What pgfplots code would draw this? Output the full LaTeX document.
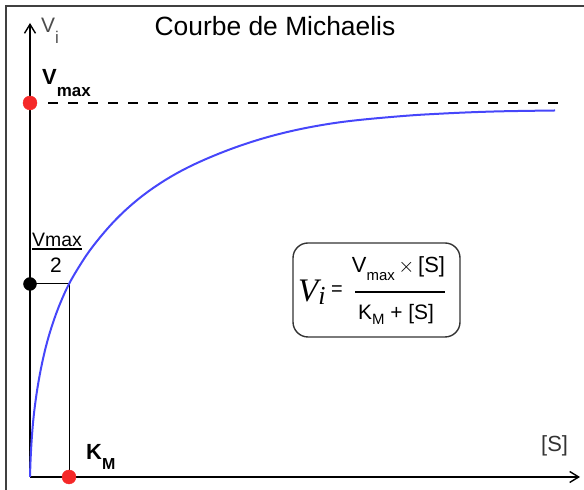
\documentclass[border=0pt]{standalone}
\usepackage{pgfplots}
\pgfplotsset{compat=1.18}
\usetikzlibrary{arrows.meta}
\usepackage{fontspec}
\setmainfont{Liberation Sans}
\newfontfamily\timesf{Liberation Serif}
\definecolor{curveblue}{RGB}{70,70,250}
\definecolor{dotred}{RGB}{245,40,40}
\begin{document}
\begin{tikzpicture}
\begin{axis}[name=ax,
  scale only axis, width=584bp, height=490bp,
  xmin=-30, xmax=554, ymin=-13, ymax=477,
  hide axis, clip=false]
% frame (cropped at right and bottom)
\addplot[black!75, line width=1.4bp] coordinates {(-24,-13) (-24,471) (554,471)};
% axes
\addplot[black, line width=1.4bp, -{Straight Barb[length=9bp,width=11bp,line width=1.4bp]}] coordinates {(0,0) (0,454)};
\addplot[black, line width=1.4bp, -{Straight Barb[length=9bp,width=11bp,line width=1.4bp]}] coordinates {(0,0) (550,0)};
% Vmax dashed asymptote
\addplot[black, line width=1.3bp, dash pattern=on 10bp off 10bp] coordinates {(18,374) (533,374)};
% Km guide lines
\addplot[black, line width=1bp] coordinates {(0,193) (39,193) (39,0)};
% Michaelis curve
\addplot[curveblue, line width=2bp, smooth, tension=0.6] coordinates {
(0,0) (0.5,15.4) (1.5,34.4) (3,53.9) (5,71.9) (8,92.3) (12,113.5) (17,134.5)
(23,154.3) (30,173.2) (39,193) (51,213.4) (63,230.8) (80,251.2) (97,268.2)
(117,284.6) (140,299.8) (165,313) (197,326.5) (230,337.7) (263,346.3)
(297,352.8) (330,357.1) (377,361.3) (410,363.3) (443,364.8) (477,365.8) (525,366.5)};
% dots
\addplot[only marks, mark=*, mark size=7bp, dotred, mark options={draw=dotred}] coordinates {(0,374) (39,0)};
\addplot[only marks, mark=*, mark size=6.5bp, black] coordinates {(0,193)};
% texts
\node[anchor=base] at (axis cs:245,441) {\fontsize{26.5}{30}\selectfont Courbe de Michaelis};
\node[anchor=base west, inner sep=0pt, text=black!70] at (axis cs:11,444) {\fontsize{21}{24}\selectfont V\raisebox{-11bp}{\fontsize{17}{20}\selectfont i}};
\node[anchor=base west, inner sep=0pt] at (axis cs:12,392) {\fontsize{22}{26}\selectfont\bfseries V\raisebox{-12bp}{\fontsize{17}{20}\selectfont max}};
\node[anchor=base west, inner sep=0pt] at (axis cs:56,17) {\fontsize{22}{26}\selectfont\bfseries K\raisebox{-10bp}{\fontsize{16}{20}\selectfont M}};
\node[anchor=base west, inner sep=0pt] at (axis cs:2,230) {\fontsize{19.5}{24}\selectfont Vmax};
\addplot[black, line width=1.2bp] coordinates {(2,228) (52,228)};
\node[anchor=base, inner sep=0pt] at (axis cs:26,204) {\fontsize{21}{24}\selectfont 2};
\node[anchor=base west, inner sep=0pt, text=black!80] at (axis cs:511,25) {\fontsize{22}{26}\selectfont [S]};
% formula box
\draw[black!80, line width=1.4bp, rounded corners=15bp] (axis cs:263,234) rectangle (axis cs:430,140);
\node[anchor=base west, inner sep=0pt] at (axis cs:268,175) {\fontsize{33}{36}\timesf\itshape V\raisebox{-3bp}{\fontsize{26}{30}\selectfont i}};
\node[anchor=center, inner sep=0pt] at (axis cs:307,186) {\fontsize{20}{24}\selectfont =};
\node[anchor=base, inner sep=0pt] at (axis cs:368.5,204) {\fontsize{22}{24}\selectfont V\raisebox{-8bp}{\fontsize{15}{18}\selectfont max}\,$\times$\,[S]};
\addplot[black, line width=1.2bp] coordinates {(325,185) (415,185)};
\node[anchor=base, inner sep=0pt] at (axis cs:366,157) {\fontsize{21}{24}\selectfont K\raisebox{-5bp}{\fontsize{15}{18}\selectfont M} + [S]};
\end{axis}
\pgfresetboundingbox
\useasboundingbox (ax.south west) rectangle (ax.north east);
\end{tikzpicture}
\end{document}
